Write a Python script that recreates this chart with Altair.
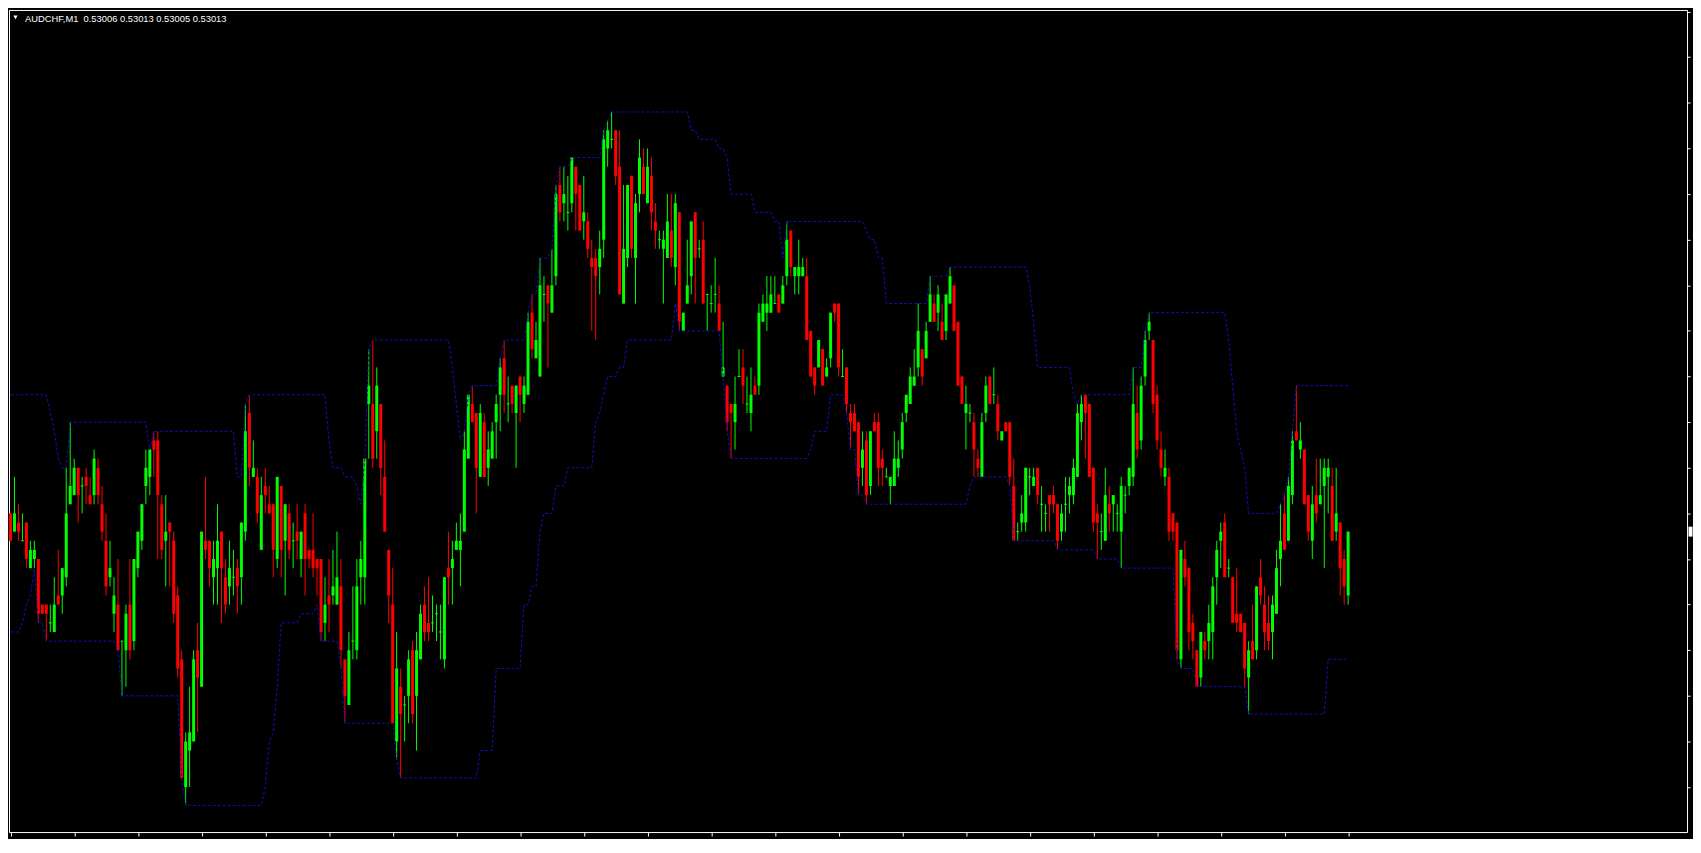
import altair as alt
import pandas as pd

# ---------------- data (prices in points above 0.53000, 1 point = 0.00001) ----------------
open_pts = [
    15, 13, 14, 12, 14, 9, 10, 10, 5, 5, 3, 2, 6, 6, 8, 16, 17, 20, 18, 19, 17, 17, 20, 16, 12, 8, 4, 5, 1, 0,
    5, 1, 9, 12, 18, 19, 23, 23, 16, 12, 14, 12, 6, -1, -15, -11, -10, 0, -4, 12, 12, 8, 9, 13, 8, 7, 8, 9, 8, 13,
    26, 19, 19, 11, 18, 16, 16,
    10, 18, 12, 15, 12, 13, 10, 15, 11, 11, 10, 10, 3, 6, 6, 5, 7, -1, -6, 1, 0, 8, 8, 27, 27, 24, 27, 19, 11, 5,
    -10, -4, -6, -5, 0, -5, -1, 5, 3, 3, 4, 2, -1, 9, 9, 11, 11, 13, 21, 27, 26, 19, 25, 20, 21, 25, 28, 32, 27, 29,
    26, 30, 27, 28, 37, 32, 30,
    39, 40, 37, 41, 51, 49, 48, 49, 53, 51, 47, 47, 43, 43, 42, 45, 55, 56, 57, 53, 38, 43, 52, 43, 50, 53, 49, 52,
    47, 45, 44, 43, 46, 42, 48, 35, 38, 41, 48, 44, 45, 39, 38, 39, 38, 30, 29, 27, 25, 30, 31, 27, 26, 29, 29, 36,
    37, 37, 38, 39, 38, 41, 46, 41, 41, 41, 41, 35,
    31, 31, 33, 30, 32, 38, 38, 30, 31, 26, 26, 25, 20, 23, 18, 25, 25, 21, 19, 18, 18, 20, 22, 26, 27, 29, 31, 33,
    32, 36, 38, 37, 36, 35, 38, 40, 36, 30, 26, 26, 25, 21, 19, 26, 30, 28, 27, 23, 25, 25, 18, 13, 14, 14, 19, 18,
    20, 16, 15, 17, 17, 16, 13, 16, 17, 17, 19,
    25, 28, 27, 20, 15, 13, 12, 16, 16, 15, 13, 17, 18, 19, 26, 23, 30, 35, 34, 28, 22, 19, 19, 15, 14, -1, 10, 9,
    3, 0, -3, 1, 1, 2, 8, 12, 14, 9, 8, 4, 4, 3, -3, 1, 0, 8, 5, 3, 2, 4, 10, 15, 12, 17, 24, 22, 22, 17, 12, 17,
    16, 18, 19, 18, 13, 14, 10, 6,
]
high_pts = [
    15, 19, 16, 15, 14, 12, 12, 10, 5, 5, 5, 8, 11, 9, 20, 25, 21, 20, 19, 20, 19, 22, 21, 18, 15, 12, 8, 10, 1, 5,
    10, 10, 13, 16, 22, 22, 24, 24, 17, 17, 14, 13, 7, 0, -9, -4, 0, 3, 13, 19, 12, 12, 16, 13, 10, 12, 11, 10, 14, 27,
    28, 23, 20, 19, 20, 18, 16,
    19, 18, 16, 16, 14, 16, 13, 16, 11, 15, 10, 10, 8, 10, 11, 13, 10, -1, 2, 7, 10, 12, 21, 33, 34, 31, 27, 23, 11, 9,
    2, -2, -5, 0, 1, 2, 5, 7, 8, 6, 5, 5, 8, 13, 12, 14, 15, 24, 28, 29, 26, 27, 26, 24, 25, 28, 32, 34, 30, 29,
    29, 30, 30, 37, 39, 36, 43,
    41, 40, 44, 51, 53, 53, 52, 54, 53, 51, 52, 48, 45, 44, 46, 57, 58, 59, 57, 57, 51, 51, 52, 50, 56, 55, 55, 54,
    49, 46, 46, 50, 50, 50, 48, 37, 45, 47, 48, 45, 47, 39, 40, 43, 40, 36, 29, 27, 30, 33, 33, 30, 31, 30, 38, 39,
    41, 41, 41, 39, 41, 47, 46, 42, 45, 43, 43, 35,
    31, 34, 33, 32, 37, 38, 38, 33, 31, 27, 27, 25, 24, 24, 24, 26, 26, 22, 20, 19, 24, 23, 26, 28, 31, 33, 38, 33,
    36, 41, 39, 40, 38, 39, 42, 40, 36, 30, 29, 27, 26, 22, 26, 30, 30, 31, 28, 24, 25, 25, 21, 14, 17, 20, 20, 20,
    20, 18, 16, 17, 18, 16, 16, 19, 19, 21, 27,
    28, 28, 27, 20, 16, 15, 20, 18, 17, 16, 19, 18, 20, 31, 29, 30, 35, 37, 34, 29, 24, 22, 20, 15, 14, 11, 12, 9,
    4, 0, 2, 2, 5, 8, 12, 14, 15, 10, 8, 9, 4, 3, 1, 5, 7, 10, 7, 6, 6, 11, 16, 17, 19, 24, 29, 25, 22, 17, 18, 21,
    21, 21, 21, 20, 20, 14, 11, 13,
]
low_pts = [
    12, 13, 12, 12, 9, 9, 9, 3, 4, 1, 2, 2, 5, 4, 7, 16, 17, 14, 15, 16, 16, 16, 16, 12, 6, 7, 2, 0, -5, -4,
    -1, 0, 8, 11, 16, 17, 19, 10, 10, 7, 7, 3, -3, -14, -17, -15, -10, -9, -4, 10, 7, 5, 5, 3, 4, 5, 6, 4, 5, 12,
    18, 19, 14, 11, 15, 15, 8,
    9, 8, 6, 10, 9, 10, 8, 6, 9, 8, 6, 1, 1, 2, 5, 5, -2, -8, -6, -1, -1, 5, 5, 21, 20, 21, 17, 13, 3, -8,
    -12, -14, -10, -8, -8, -11, -1, 1, 1, 2, 1, -1, -2, 5, 5, 11, 7, 13, 21, 25, 15, 19, 19, 18, 21, 21, 24, 26, 25, 26,
    20, 25, 26, 28, 32, 32, 30,
    36, 31, 37, 40, 47, 47, 46, 48, 46, 46, 45, 43, 35, 34, 39, 43, 53, 55, 51, 39, 38, 42, 43, 38, 48, 50, 49, 46,
    44, 44, 38, 43, 42, 40, 35, 35, 38, 39, 38, 43, 38, 35, 37, 37, 35, 30, 24, 21, 22, 30, 27, 26, 24, 28, 28, 36,
    35, 37, 38, 37, 38, 40, 41, 39, 39, 41, 34, 30,
    28, 31, 29, 30, 31, 36, 30, 30, 26, 22, 24, 17, 18, 16, 17, 24, 18, 18, 19, 16, 18, 19, 21, 25, 27, 29, 30, 29,
    32, 36, 36, 35, 34, 34, 38, 35, 29, 27, 22, 25, 19, 19, 19, 25, 27, 27, 23, 23, 24, 18, 12, 12, 13, 13, 17, 18,
    16, 13, 13, 13, 15, 11, 12, 13, 15, 16, 19,
    23, 21, 19, 13, 10, 11, 12, 13, 13, 13, 9, 15, 17, 18, 21, 22, 29, 34, 26, 22, 19, 18, 12, 12, -1, -2, 7, 0,
    -1, -4, -4, -1, -1, -1, 5, 9, 8, 8, 3, 2, 2, -4, -7, -1, -1, 5, 0, 0, -1, 4, 7, 11, 12, 16, 23, 21, 16, 12,
    10, 14, 16, 9, 15, 12, 12, 6, 5, 5,
]
close_pts = [
    12, 15, 13, 12, 10, 11, 11, 4, 4, 4, 3, 5, 5, 9, 15, 18, 20, 17, 18, 18, 16, 21, 17, 13, 7, 9, 6, 0, 1, 4,
    0, 10, 13, 16, 20, 22, 22, 17, 11, 13, 13, 4, -2, -14, -10, -9, -1, -3, 13, 11, 9, 10, 12, 9, 5, 9, 8, 7, 14, 24,
    20, 20, 15, 17, 17, 15, 11,
    19, 11, 16, 11, 12, 12, 13, 10, 10, 9, 9, 2, 5, 5, 7, 8, 0, -5, 0, 1, 7, 10, 21, 29, 21, 29, 20, 13, 6, -8,
    -2, -7, -6, -1, -7, 0, 4, 2, 2, 3, 4, 2, 8, 8, 10, 12, 12, 22, 28, 25, 20, 26, 19, 22, 24, 27, 31, 28, 27, 27,
    29, 28, 29, 36, 33, 34, 40,
    39, 38, 40, 50, 48, 50, 48, 54, 50, 46, 48, 44, 42, 41, 44, 56, 57, 56, 52, 39, 44, 51, 44, 49, 54, 50, 53, 48,
    46, 45, 45, 47, 43, 49, 36, 37, 40, 47, 43, 44, 38, 39, 38, 39, 35, 31, 25, 26, 27, 30, 29, 27, 28, 28, 37, 38,
    38, 39, 38, 37, 40, 45, 42, 42, 42, 42, 34, 30,
    29, 34, 29, 31, 37, 37, 31, 30, 27, 25, 24, 19, 22, 17, 24, 24, 20, 20, 19, 19, 21, 21, 25, 28, 30, 30, 35, 30,
    35, 39, 36, 39, 34, 39, 41, 35, 29, 27, 27, 26, 22, 20, 25, 29, 27, 28, 24, 24, 24, 19, 12, 13, 15, 20, 19, 19,
    17, 16, 15, 16, 16, 12, 15, 16, 18, 20, 26,
    27, 26, 19, 14, 14, 13, 17, 15, 17, 15, 18, 17, 20, 27, 22, 29, 34, 36, 27, 23, 20, 20, 13, 13, 0, 11, 8, 2,
    1, -4, 2, 0, 3, 7, 11, 13, 8, 9, 3, 3, 2, -2, 0, -1, 7, 6, 2, 1, 5, 9, 12, 11, 18, 23, 23, 23, 16, 13,
    16, 15, 17, 20, 20, 12, 15, 9, 7, 13,
]

# Donchian channel (20 bars) values for the first 19 bars, whose window starts before the chart
dc_period = 20
dc_upper_head = [28, 28, 28, 28, 28, 28, 28, 28, 28, 28, 26, 24, 21, 20, 20, 25, 25, 25, 25]
dc_lower_head = [2, 2, 2, 3, 5, 6, 9, 3, 3, 1, 1, 1, 1, 1, 1, 1, 1, 1, 1]

symbol = "AUDCHF,M1"
x_tick_bars = [0, 16, 32, 48, 64, 80, 96, 112, 128, 144, 160, 176, 192, 208, 224, 240, 256, 272, 288, 304, 320, 336]
y_tick_prices = [0.52985, 0.52990, 0.52995, 0.53000, 0.53005, 0.53010, 0.53015, 0.53020, 0.53025,
                 0.53030, 0.53035, 0.53040, 0.53045, 0.53050, 0.53055, 0.53060, 0.53065, 0.53070]

# ---------------- build table ----------------
def px(v):
    return round(0.53 + v * 1e-5, 6)

n = len(open_pts)
hs = pd.Series(high_pts, dtype=float).rolling(dc_period, min_periods=1).max()
ls = pd.Series(low_pts, dtype=float).rolling(dc_period, min_periods=1).min()
upper = [dc_upper_head[k] if k < len(dc_upper_head) else hs[k] for k in range(n)]
lower = [dc_lower_head[k] if k < len(dc_lower_head) else ls[k] for k in range(n)]

df = pd.DataFrame({
    "i": list(range(n)),
    "open": [px(v) for v in open_pts],
    "high": [px(v) for v in high_pts],
    "low": [px(v) for v in low_pts],
    "close": [px(v) for v in close_pts],
    "upper": [px(v) for v in upper],
    "lower": [px(v) for v in lower],
    "dir": ["up" if c >= o else "down" for o, c in zip(open_pts, close_pts)],
    "doji": [o == c for o, c in zip(open_pts, close_pts)],
})

last = df.iloc[-1]
title_text = "{}\u00a0\u00a0{:.5f} {:.5f} {:.5f} {:.5f}".format(symbol, last["open"], last["high"], last["low"], last["close"])

# ---------------- chart ----------------
W, H = 1686, 826
BLUE = "#1010B8"

xscale = alt.Scale(domain=[-0.375, 421.125], nice=False, zero=False)
yscale = alt.Scale(domain=[0.5298007, 0.5307018], nice=False, zero=False)
xaxis = alt.Axis(values=x_tick_bars, orient="bottom", labels=False, grid=False, domain=False,
                 ticks=True, tickColor="white", tickSize=4, tickWidth=1, title=None,
                 minExtent=0, maxExtent=6, offset=0)
yaxis = alt.Axis(values=y_tick_prices, orient="right", labels=False, grid=False, domain=False,
                 ticks=True, tickColor="white", tickSize=3, tickWidth=1, title=None,
                 minExtent=0, maxExtent=6, offset=0)
X = alt.X("i:Q", scale=xscale, axis=xaxis)
color = alt.Color("dir:N", scale=alt.Scale(domain=["up", "down"], range=["#00FF00", "#FF0000"]), legend=None)

base = alt.Chart(df)

wicks = base.mark_rule(strokeWidth=1, opacity=1).encode(
    x=X, y=alt.Y("low:Q", scale=yscale, axis=yaxis), y2="high:Q", color=color)

bodies = base.transform_filter("!datum.doji").mark_rule(strokeWidth=3, opacity=1).encode(
    x=X, y=alt.Y("open:Q", scale=yscale, axis=yaxis), y2="close:Q", color=color)

dojis = base.transform_filter("datum.doji").mark_tick(orient="horizontal", size=3, thickness=1, opacity=1).encode(
    x=X, y=alt.Y("open:Q", scale=yscale, axis=yaxis), color=color)

dc_up = base.mark_line(color=BLUE, strokeWidth=1, strokeDash=[3, 2], opacity=1).encode(
    x=X, y=alt.Y("upper:Q", scale=yscale, axis=yaxis))
dc_lo = base.mark_line(color=BLUE, strokeWidth=1, strokeDash=[3, 2], opacity=1).encode(
    x=X, y=alt.Y("lower:Q", scale=yscale, axis=yaxis))

marker = alt.Chart(df.tail(1)).mark_tick(orient="vertical", size=10, thickness=4, color="white", opacity=1).encode(
    x=alt.value(W + 3.5), y=alt.Y("close:Q", scale=yscale, axis=yaxis))

title_df = pd.DataFrame({"t": [title_text]})
title = alt.Chart(title_df).mark_text(align="left", baseline="alphabetic", font="Liberation Sans",
                                      fontSize=9.4, color="white").encode(
    x=alt.value(16), y=alt.value(12), text="t:N")
tri = alt.Chart(title_df).mark_point(shape="triangle-down", filled=True, size=18, color="white", opacity=1).encode(
    x=alt.value(6.5), y=alt.value(7.5))

chart = alt.layer(wicks, bodies, dojis, dc_up, dc_lo, marker, title, tri).properties(
    width=W, height=H, background="black", padding=0
).configure_view(stroke="white", strokeWidth=1)

chart.save("out.html", embed_options={"renderer": "svg", "actions": False})
